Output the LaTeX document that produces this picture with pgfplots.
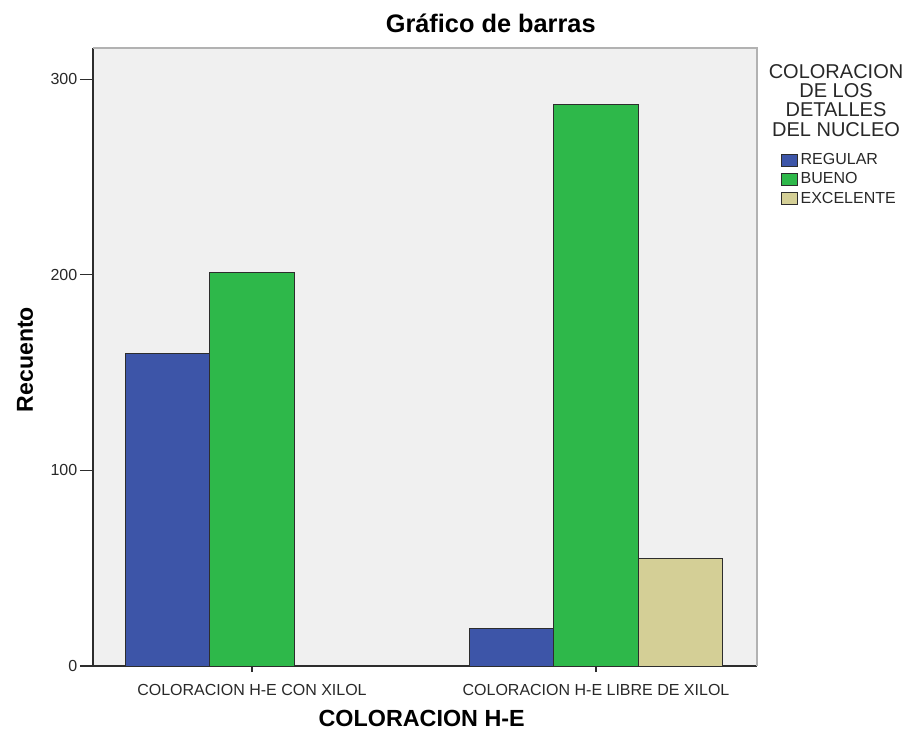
\documentclass[border=0pt]{standalone}
\usepackage{fontspec}
\setmainfont{Liberation Sans}
\usepackage{pgfplots}
\pgfplotsset{compat=1.18}
\definecolor{cblue}{RGB}{61,85,168}
\definecolor{cgreen}{RGB}{46,184,74}
\definecolor{cbeige}{RGB}{212,207,150}
\definecolor{bgray}{RGB}{240,240,240}
\definecolor{edge}{RGB}{45,45,45}
\definecolor{txt}{RGB}{40,40,40}
\begin{document}
\begin{tikzpicture}
\begin{axis}[
  at={(0,0)}, anchor=south west,
  scale only axis, width=498pt, height=463.5pt,
  xmin=-0.462, xmax=1.468, ymin=0, ymax=316,
  ybar=0pt, bar width=0.2456,
  xtick={0,1},
  xticklabels={COLORACION H-E CON XILOL, COLORACION H-E LIBRE DE XILOL},
  ytick={0,100,200,300},
  axis x line*=bottom, axis y line*=left,
  axis line style={edge, line width=0.9pt},
  axis background/.style={fill=bgray},
  tick align=outside, major tick length=9.75pt,
  tick style={edge, line width=0.9pt},
  xtick style={/pgfplots/major tick length=4.5pt},
  ticklabel style={font=\fontsize{12}{14}\selectfont, text=txt},
  xticklabel style={anchor=base, yshift=-12pt},
  yticklabel style={anchor=east, xshift=1.5pt},
  /pgf/number format/assume math mode=true,
  clip=false,
  title={Gráfico de barras},
  title style={at={(axis description cs:0.599,1.0129)}, anchor=base, inner sep=0pt, font=\bfseries\fontsize{19}{22}\selectfont},
  xlabel={COLORACION H-E},
  xlabel style={at={(axis description cs:0.495,-0.0971)}, anchor=base, inner sep=0pt, font=\bfseries\fontsize{17.5}{20}\selectfont},
  ylabel={Recuento},
  ylabel style={at={(axis description cs:-0.0904,0.496)}, anchor=base, inner sep=0pt, font=\bfseries\fontsize{17.3}{20}\selectfont},
  legend style={at={(axis description cs:1.036,0.830)}, anchor=north west, draw=none, fill=none, inner sep=0pt, row sep=4.4pt,
    font=\fontsize{12}{14}\selectfont, text=txt,
    nodes={inner sep=0pt, text height=8.5pt, text depth=1.5pt, anchor=west},
    /tikz/every odd column/.append style={column sep=2pt}},
  legend cell align=left,
  legend image code/.code={\draw[#1, draw=edge, line width=0.6pt] (0pt,-4.5pt) rectangle (12pt,4.5pt);},
]
\addplot[fill=cblue, draw=edge, line width=0.75pt] coordinates {(0,160) (1,19)};
\addplot[fill=cgreen, draw=edge, line width=0.75pt] coordinates {(0,201) (1,287)};
\addplot[fill=cbeige, draw=edge, line width=0.75pt] coordinates {(1,55)};
\legend{REGULAR,BUENO,EXCELENTE}
\draw[gray!60, line width=1pt] (rel axis cs:0,1) -- (rel axis cs:1,1) -- (rel axis cs:1,0);
\node[anchor=north, align=center, inner sep=0pt, text=txt, font=\fontsize{15}{14.5}\selectfont] at (axis description cs:1.119,0.974) {COLORACION\\DE LOS\\DETALLES\\DEL NUCLEO};
\end{axis}
\pgfresetboundingbox
\path (-69.75pt,-48.75pt) rectangle (612pt,499.5pt);
\end{tikzpicture}
\end{document}
